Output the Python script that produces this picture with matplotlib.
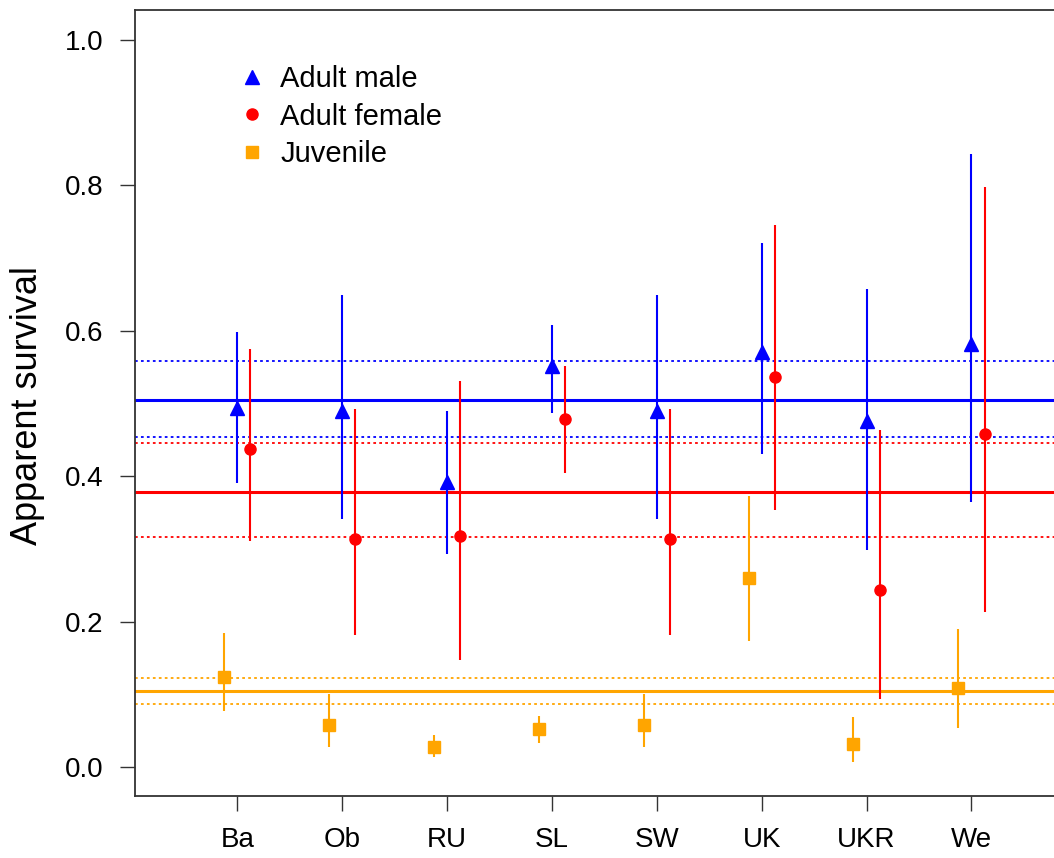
import matplotlib
matplotlib.use("Agg")
import matplotlib.pyplot as plt
import numpy as np

sites = ["Ba", "Ob", "RU", "SL", "SW", "UK", "UKR", "We"]

male_est = [0.494, 0.489, 0.392, 0.551, 0.489, 0.571, 0.476, 0.582]
male_lo  = [0.390, 0.341, 0.293, 0.487, 0.341, 0.431, 0.299, 0.365]
male_hi  = [0.599, 0.649, 0.490, 0.608, 0.649, 0.721, 0.658, 0.843]

female_est = [0.438, 0.314, 0.318, 0.478, 0.314, 0.537, 0.243, 0.458]
female_lo  = [0.311, 0.182, 0.147, 0.405, 0.182, 0.354, 0.094, 0.213]
female_hi  = [0.575, 0.492, 0.531, 0.551, 0.492, 0.746, 0.463, 0.798]

juv_est = [0.124, 0.058, 0.028, 0.052, 0.058, 0.260, 0.031, 0.108]
juv_lo  = [0.077, 0.027, 0.013, 0.033, 0.027, 0.173, 0.007, 0.053]
juv_hi  = [0.184, 0.100, 0.044, 0.070, 0.100, 0.373, 0.069, 0.190]

# overall means and CIs
male_mean, male_mean_lo, male_mean_hi = 0.505, 0.454, 0.558
female_mean, female_mean_lo, female_mean_hi = 0.378, 0.316, 0.445
juv_mean, juv_mean_lo, juv_mean_hi = 0.105, 0.086, 0.123

BLUE = "#0000FF"
RED = "#FF0000"
ORANGE = "#FFA500"

plt.rcParams['font.family'] = ['Liberation Sans', 'DejaVu Sans']

fig = plt.figure(figsize=(10.54, 8.58), dpi=100)
W, H = 1054, 858
left, right, top, bottom = 135, 1054, 9.5, 796
ax = fig.add_axes([left / W, 1 - bottom / H, (right - left) / W, (bottom - top) / H])

x = np.arange(1, len(sites) + 1)
off = 0.125

# overall lines
for m, lo, hi, c in [(male_mean, male_mean_lo, male_mean_hi, BLUE),
                     (female_mean, female_mean_lo, female_mean_hi, RED),
                     (juv_mean, juv_mean_lo, juv_mean_hi, ORANGE)]:
    ax.axhline(m, color=c, lw=2.2, zorder=1)
    ax.axhline(lo, color=c, lw=1.3, ls=(0, (1.5, 1.8)), zorder=1)
    ax.axhline(hi, color=c, lw=1.3, ls=(0, (1.5, 1.8)), zorder=1)

groups = [
    (x, male_est, male_lo, male_hi, BLUE, '^', 10, "Adult male"),
    (x + off, female_est, female_lo, female_hi, RED, 'o', 8, "Adult female"),
    (x - off, juv_est, juv_lo, juv_hi, ORANGE, 's', 8, "Juvenile"),
]
handles = []
for xx, est, lo, hi, c, mk, ms, lab in groups:
    ax.vlines(xx, lo, hi, color=c, lw=1.5, zorder=2)
    h, = ax.plot(xx, est, ls='none', marker=mk, ms=ms, color=c, mec=c, zorder=3, label=lab)
    handles.append(h)

ax.set_xlim(0.0248, 8.7867)
ax.set_ylim(-0.040, 1.042)
ax.set_xticks(x)
ax.set_xticklabels(sites)
ax.set_yticks([0.0, 0.2, 0.4, 0.6, 0.8, 1.0])
ax.set_yticklabels(["0.0", "0.2", "0.4", "0.6", "0.8", "1.0"])
ax.tick_params(axis='both', labelsize=20, length=10.5, width=1.0, color='#333333')
ax.tick_params(axis='y', pad=12)
ax.tick_params(axis='x', pad=12)
for s in ['left', 'top', 'bottom']:
    ax.spines[s].set_linewidth(1.3)
    ax.spines[s].set_color('#333333')
ax.spines['right'].set_visible(False)

ax.set_ylabel("Apparent survival", fontsize=26, va='center')
ax.yaxis.set_label_coords((28 - left) / (right - left), 1 - (406 - top) / (bottom - top))

ax.legend(handles=handles, loc='upper left',
          bbox_to_anchor=((240 - left) / (right - left), 1 - (65 - top) / (bottom - top)),
          frameon=False, fontsize=21, handlelength=0.8, handletextpad=0.58, labelspacing=0.33,
          borderaxespad=0, borderpad=0)

fig.savefig("out.png", dpi=100)
